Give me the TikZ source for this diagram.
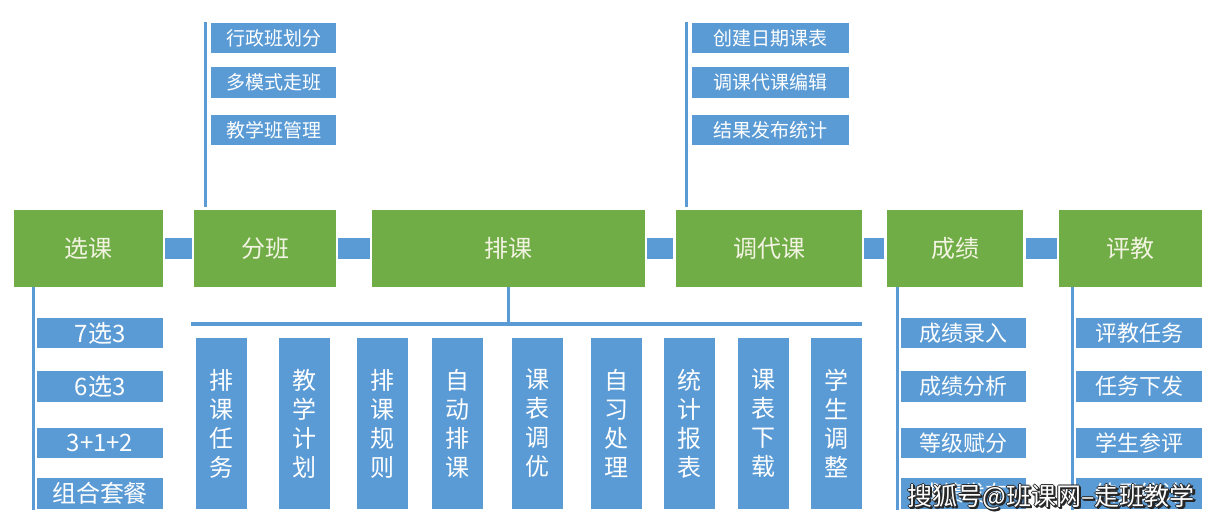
\documentclass[tikz,border=0pt]{standalone}
\usepackage{fontspec}
\setmainfont{Noto Sans CJK SC}
\definecolor{stagegreen}{HTML}{70AD47}
\definecolor{itemblue}{HTML}{5B9BD5}
\definecolor{stagetext}{HTML}{F3F3E2}
\begin{document}
\begin{tikzpicture}[x=1pt,y=-1pt,
  stage/.style={fill=stagegreen,text=stagetext,minimum height=77pt,inner sep=0pt,outer sep=0pt,font=\fontsize{24}{24}\selectfont},
  item/.style={fill=itemblue,text=white,minimum height=30pt,inner sep=0pt,outer sep=0pt,font=\fontsize{19}{19}\selectfont},
  bigitem/.style={item,font=\fontsize{24}{24}\selectfont},
  miditem/.style={item,font=\fontsize{22}{22}\selectfont},
  column/.style={fill=itemblue,text=white,minimum width=51pt,minimum height=171pt,inner sep=0pt,outer sep=0pt,align=center,font=\fontsize{24}{29}\selectfont},
  link/.style={fill=itemblue},
  trunk/.style={draw=itemblue,line width=3pt},
  wmshadow/.style={text=black!85,inner sep=0pt,font=\fontsize{25}{25}\selectfont},
  wmtext/.style={text=white,inner sep=0pt,font=\fontsize{25}{25}\selectfont}]
  \useasboundingbox (0,0) rectangle (1221,526);

  % main stages
  \node[stage,minimum width=149pt] (xuanke) at (88.5,248.5) {选课};
  \node[stage,minimum width=142pt] (fenban) at (265,248.5) {分班};
  \node[stage,minimum width=273pt] (paike) at (508.5,248.5) {排课};
  \node[stage,minimum width=186pt] (tiaodai) at (769,248.5) {调代课};
  \node[stage,minimum width=136pt] (chengji) at (955,248.5) {成绩};
  \node[stage,minimum width=143pt] (pingjiao) at (1130.5,248.5) {评教};

  \fill[link] ([xshift=2pt,yshift=10.5pt]xuanke.east) rectangle ([xshift=-2pt,yshift=-10.5pt]fenban.west);
  \fill[link] ([xshift=2pt,yshift=10.5pt]fenban.east) rectangle ([xshift=-2pt,yshift=-10.5pt]paike.west);
  \fill[link] ([xshift=2pt,yshift=10.5pt]paike.east) rectangle ([xshift=-3pt,yshift=-10.5pt]tiaodai.west);
  \fill[link] ([xshift=2pt,yshift=10.5pt]tiaodai.east) rectangle ([xshift=-3pt,yshift=-10.5pt]chengji.west);
  \fill[link] ([xshift=3pt,yshift=10.5pt]chengji.east) rectangle ([xshift=-2pt,yshift=-10.5pt]pingjiao.west);

  % 选课
  \node[bigitem,minimum width=126pt] (xk1) at (100,333) {7选3};
  \node[bigitem,minimum width=126pt,minimum height=31pt] (xk2) at (100,386.5) {6选3};
  \node[bigitem,minimum width=126pt] (xk3) at (100,443) {3+1+2};
  \node[bigitem,minimum width=126pt,minimum height=31pt] (xk4) at (100,493.5) {组合套餐};
  \draw[trunk] ([xshift=19pt]xuanke.south west) -- ([xshift=-4pt,yshift=-1pt]xk4.south west);

  % 分班
  \node[item,minimum width=125pt] (fb1) at (273.5,38) {行政班划分};
  \node[item,minimum width=125pt,minimum height=31pt] (fb2) at (273.5,82.5) {多模式走班};
  \node[item,minimum width=125pt] (fb3) at (273.5,130) {教学班管理};
  \draw[trunk] ([xshift=11pt,yshift=3pt]fenban.north west) -- ([xshift=-6pt,yshift=1pt]fb1.north west);

  % 调代课
  \node[item,minimum width=157pt] (td1) at (770.5,38) {创建日期课表};
  \node[item,minimum width=157pt,minimum height=31pt] (td2) at (770.5,82.5) {调课代课编辑};
  \node[item,minimum width=157pt] (td3) at (770.5,130) {结果发布统计};
  \draw[trunk] ([xshift=10pt,yshift=3pt]tiaodai.north west) -- ([xshift=-6pt,yshift=1pt]td1.north west);

  % 排课
  \node[column] (pk1) at (221.5,423.5) {排\\课\\任\\务};
  \node[column] (pk2) at (304.5,423.5) {教\\学\\计\\划};
  \node[column] (pk3) at (382.5,423.5) {排\\课\\规\\则};
  \node[column] (pk4) at (457.5,423.5) {自\\动\\排\\课};
  \node[column] (pk5) at (537.5,423.5) {课\\表\\调\\优};
  \node[column] (pk6) at (616.5,423.5) {自\\习\\处\\理};
  \node[column] (pk7) at (689.5,423.5) {统\\计\\报\\表};
  \node[column] (pk8) at (763.5,423.5) {课\\表\\下\\载};
  \node[column] (pk9) at (836.5,423.5) {学\\生\\调\\整};
  \coordinate (bar) at ([xshift=-5pt,yshift=14pt]pk1.north west);
  \draw[itemblue,line width=4pt] (bar) -- ([yshift=14pt]pk9.north east);
  \draw[trunk] (paike.south) -- (paike.south |- bar);

  % 成绩
  \node[miditem,minimum width=125pt] (cj1) at (963.5,333) {成绩录入};
  \node[miditem,minimum width=125pt,minimum height=31pt] (cj2) at (963.5,386.5) {成绩分析};
  \node[miditem,minimum width=125pt] (cj3) at (963.5,443) {等级赋分};
  \node[miditem,minimum width=125pt,minimum height=31pt] (cj4) at (963.5,493.5) {成绩发布};
  \draw[trunk] ([xshift=10pt]chengji.south west) -- ([xshift=-4pt,yshift=-1pt]cj4.south west);

  % 评教
  \node[miditem,minimum width=126pt] (pj1) at (1139,333) {评教任务};
  \node[miditem,minimum width=126pt,minimum height=31pt] (pj2) at (1139,386.5) {任务下发};
  \node[miditem,minimum width=126pt] (pj3) at (1139,443) {学生参评};
  \node[miditem,minimum width=126pt,minimum height=31pt] (pj4) at (1139,493.5) {结果统计};
  \draw[trunk] ([xshift=13pt]pingjiao.south west) -- ([xshift=-4pt,yshift=-1pt]pj4.south west);

  % watermark
  \foreach \dx/\dy [count=\k] in {2/2,2.5/1.5,1.5/2.5,-1/0,1/0,0/-1,0/1}
    \node[wmshadow] (wmshadow\k) at (1051+\dx,497+\dy) {搜狐号@班课网–走班教学};
  \node[wmtext] (wm) at (1051,497) {搜狐号@班课网–走班教学};
\end{tikzpicture}
\end{document}
